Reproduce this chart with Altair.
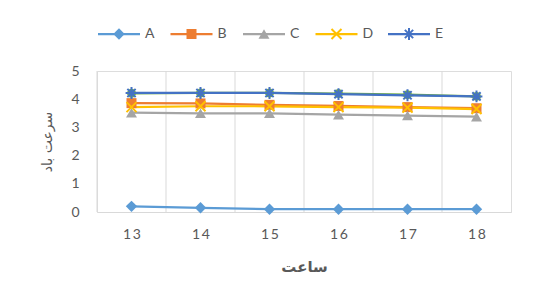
import altair as alt
import pandas as pd

hours = [13, 14, 15, 16, 17, 18]
A = [0.2, 0.15, 0.1, 0.1, 0.1, 0.1]
B = [3.86, 3.85, 3.8, 3.76, 3.72, 3.68]
C = [3.52, 3.5, 3.5, 3.45, 3.42, 3.38]
D = [3.72, 3.75, 3.75, 3.72, 3.7, 3.65]
E = [4.22, 4.22, 4.22, 4.18, 4.14, 4.1]
F = [4.21, 4.22, 4.22, 4.2, 4.16, 4.1]

legend_names = ["A", "B", "C", "D", "E"]
names = ["A", "B", "C", "D", "F", "E"]
values = [A, B, C, D, F, E]
colors = ["#5B9BD5", "#ED7D31", "#A5A5A5", "#FFC000", "#70AD47", "#4472C4"]

x_title = "ساعت"
y_title = "سرعت باد"

rows = []
for n, vals in zip(names, values):
    for h, v in zip(hours, vals):
        rows.append({"series": n, "hour": h, "value": v})
df = pd.DataFrame(rows)

grid_df = pd.DataFrame({"b": [h - 0.5 for h in hours]})

XS = alt.Scale(domain=[hours[0] - 0.5, hours[-1] + 0.5], nice=False)
YS = alt.Scale(domain=[0, 5], nice=False)
CS = alt.Scale(domain=names, range=colors)

FONT = "Lato"
TXT = "#595959"

asterisk = "M-1,0H1M0,-1V1M-0.7,-0.7L0.7,0.7M-0.7,0.7L0.7,-0.7"
xcross = "M-1,-1L1,1M-1,1L1,-1"

styles = {
    "A": dict(shape="diamond", filled=True, size=130),
    "B": dict(shape="square", filled=True, size=100),
    "C": dict(shape="triangle-up", filled=True, size=120),
    "D": dict(shape=xcross, filled=False, size=100, strokeWidth=2),
    "F": dict(shape="circle", filled=True, size=80),
    "E": dict(shape=asterisk, filled=False, size=140, strokeWidth=2),
}

grid = alt.Chart(grid_df).mark_rule(color="#D9D9D9", strokeWidth=1).encode(
    x=alt.X("b:Q", scale=XS,
            axis=alt.Axis(values=hours, format="d", grid=False, ticks=False, domainColor="#D9D9D9",
                          labelFontSize=14, labelColor=TXT, labelFont=FONT, labelPadding=15,
                          labelExpr="join(split(datum.label, ''), '\u2009')",
                          title=x_title, titleFontSize=15, titleFontWeight="bold",
                          titleColor=TXT, titleFont="DejaVu Sans", titlePadding=18)),
)

base = alt.Chart(df).encode(
    x=alt.X("hour:Q", scale=XS),
    y=alt.Y("value:Q", scale=YS,
            axis=alt.Axis(values=[0, 1, 2, 3, 4, 5], grid=False, ticks=False, domain=False,
                          labelFontSize=14, labelColor=TXT, labelFont=FONT, labelPadding=18,
                          title=y_title, titleFontSize=14, titleFontWeight="normal",
                          titleColor=TXT, titleFont="DejaVu Sans", titleAngle=270,
                          titleBaseline="middle", titleAlign="center",
                          titleX=-50, titleY=70.5)),
    color=alt.Color("series:N", scale=CS, legend=None),
)

lines = base.mark_line(strokeWidth=2.25).encode(order=alt.Order("hour:Q"))

point_layers = []
for n in names:
    st = dict(styles[n])
    point_layers.append(
        base.transform_filter(alt.datum.series == n).mark_point(opacity=1, **st)
    )

# custom legend (line + marker + label), placed above the plot
step = 72.5
leg_rows = []
for i, n in enumerate(legend_names):
    x0 = 1 + step * i
    leg_rows.append({"series": n, "x0": x0, "x1": x0 + 42, "xm": x0 + 21, "xt": x0 + 47})
leg_df = pd.DataFrame(leg_rows)
LS = alt.Scale(domain=[0, 414], nice=False)
LY = -37

leg_base = alt.Chart(leg_df).encode(color=alt.Color("series:N", scale=CS, legend=None))
leg_lines = leg_base.mark_rule(strokeWidth=2.25).encode(
    x=alt.X("x0:Q", scale=LS, axis=None), x2="x1:Q", y=alt.value(LY))
leg_pts = []
for n in legend_names:
    st = dict(styles[n])
    leg_pts.append(
        leg_base.transform_filter(alt.datum.series == n).mark_point(opacity=1, **st).encode(
            x=alt.X("xm:Q", scale=LS, axis=None), y=alt.value(LY))
    )
leg_text = leg_base.mark_text(align="left", baseline="middle", fontSize=14, font=FONT,
                              color=TXT).encode(
    x=alt.X("xt:Q", scale=LS, axis=None), y=alt.value(LY), text="series:N",
    color=alt.value(TXT))

main = alt.layer(grid, lines, *point_layers)
legend = alt.layer(leg_lines, *leg_pts, leg_text)

chart = alt.layer(main, legend).resolve_scale(x="independent").properties(
    width=414, height=141,
    padding={"left": 89, "top": 63, "right": 14, "bottom": 80},
    autosize=alt.AutoSizeParams(type="none"),
).configure_view(stroke="#FFC000", strokeWidth=1.2).configure(background="white")

chart.save("out.html", embed_options={"renderer": "svg", "actions": False})
